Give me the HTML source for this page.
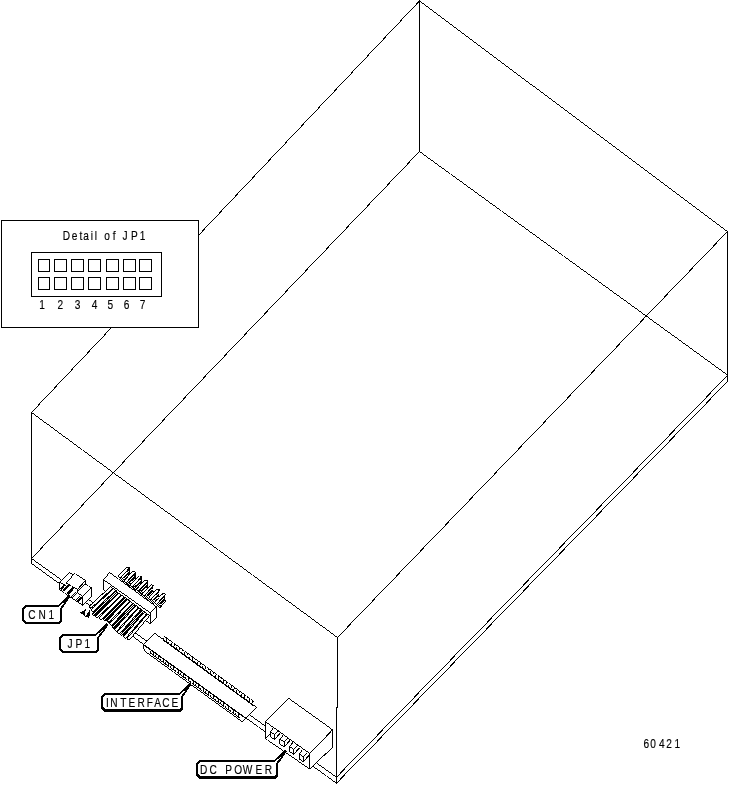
<!DOCTYPE html>
<html><head><meta charset="utf-8"><title>60421</title>
<style>
html,body{margin:0;padding:0;background:#fff;}
body{width:729px;height:785px;overflow:hidden;position:relative;font-family:"Liberation Sans",sans-serif;}
svg{position:absolute;left:0;top:0;display:block;}
svg text{font-family:"Liberation Sans",sans-serif;fill:#000;stroke:#000;stroke-width:0.18px;white-space:pre;}
</style></head><body>
<svg width="729" height="785" viewBox="0 0 729 785" shape-rendering="crispEdges" fill="#000">
<defs><pattern id="dz" width="2" height="2" patternUnits="userSpaceOnUse"><rect width="2" height="2" fill="#fff"/><rect width="1" height="1"/><rect x="1" y="1" width="1" height="1"/></pattern></defs>
<path d="M419.1 1.1L727.42 231.94L727.9 231.3L419.58 0.46ZM727.35 231.08L337.07 637.37L337.65 637.92L727.93 231.63ZM337.9 637.3L31.58 412.06L31.1 412.7L337.42 637.94ZM31.65 412.92L419.93 1.03L419.35 0.48L31.07 412.37ZM419.1 -0.2L419.1 151.7L419.9 151.7L419.9 -0.2ZM727.1 231.3L727.1 381.7L727.9 381.7L727.9 231.3ZM31.1 412.3L31.1 563.7L31.9 563.7L31.9 412.3ZM337.1 637.3L337.1 707.7L337.9 707.7L337.9 637.3ZM337.7 707.1L336.3 707.1L336.3 707.9L337.7 707.9ZM336.1 707.3L336.1 783.7L336.9 783.7L336.9 707.3ZM419.1 151.71L727.43 375.44L727.9 374.79L419.57 151.06ZM419.35 151.08L31.07 558.37L31.65 558.92L419.93 151.63ZM336.65 777.62L727.93 375.64L727.35 375.08L336.07 777.06ZM336.65 783.62L727.93 381.64L727.35 381.08L336.07 783.06ZM31.1 558.71L336.43 777.64L336.9 776.99L31.57 558.06ZM31.1 563.71L336.43 783.64L336.9 782.99L31.57 563.06Z"/>
<rect x="1" y="220" width="198" height="108"/>
<rect x="2" y="221" width="196" height="106" fill="#fff"/>
<rect x="31" y="252" width="131" height="45"/>
<rect x="32" y="253" width="129" height="43" fill="#fff"/>
<rect x="38" y="259" width="12" height="13"/>
<rect x="39" y="260" width="10" height="11" fill="#fff"/>
<rect x="38" y="277" width="12" height="13"/>
<rect x="39" y="278" width="10" height="11" fill="#fff"/>
<rect x="54" y="259" width="13" height="13"/>
<rect x="55" y="260" width="11" height="11" fill="#fff"/>
<rect x="54" y="277" width="13" height="13"/>
<rect x="55" y="278" width="11" height="11" fill="#fff"/>
<rect x="71" y="259" width="13" height="13"/>
<rect x="72" y="260" width="11" height="11" fill="#fff"/>
<rect x="71" y="277" width="13" height="13"/>
<rect x="72" y="278" width="11" height="11" fill="#fff"/>
<rect x="88" y="259" width="13" height="13"/>
<rect x="89" y="260" width="11" height="11" fill="#fff"/>
<rect x="88" y="277" width="13" height="13"/>
<rect x="89" y="278" width="11" height="11" fill="#fff"/>
<rect x="106" y="259" width="13" height="13"/>
<rect x="107" y="260" width="11" height="11" fill="#fff"/>
<rect x="106" y="277" width="13" height="13"/>
<rect x="107" y="278" width="11" height="11" fill="#fff"/>
<rect x="123" y="259" width="13" height="13"/>
<rect x="124" y="260" width="11" height="11" fill="#fff"/>
<rect x="123" y="277" width="13" height="13"/>
<rect x="124" y="278" width="11" height="11" fill="#fff"/>
<rect x="139" y="259" width="13" height="13"/>
<rect x="140" y="260" width="11" height="11" fill="#fff"/>
<rect x="139" y="277" width="13" height="13"/>
<rect x="140" y="278" width="11" height="11" fill="#fff"/>
<polygon points="59.5,582.3 69.5,572.3 73.2,575.1 74.7,573.5 85.7,580.6 85.7,584.5 91.6,587.7 91.6,596.6 82.7,605.3 59.5,589.6" fill="#fff"/>
<path d="M59.64 582.72L69.92 572.44L69.36 571.88L59.08 582.16ZM69.1 572.5L73.12 575.54L73.6 574.9L69.58 571.86ZM73.36 575.52L75.13 573.63L74.54 573.08L72.77 574.97ZM74.32 573.73L85.65 581.04L86.08 580.37L74.75 573.06ZM85.1 580.4L85.1 584.7L85.9 584.7L85.9 580.4ZM85.33 584.76L91.59 588.15L91.97 587.44L85.71 584.05ZM91.1 587.5L91.1 596.8L91.9 596.8L91.9 587.5ZM91.46 596.17L82.28 605.15L82.84 605.73L92.02 596.75ZM83.09 605.08L59.56 589.16L59.11 589.82L82.64 605.74ZM59.9 589.8L59.9 582.1L59.1 582.1L59.1 589.8ZM73.03 574.69L65.87 582.99L66.47 583.51L73.63 575.21ZM65.93 583.35L77.38 589.75L77.77 589.05L66.32 582.65ZM77.55 589.72L86.13 580.73L85.55 580.18L76.97 589.17ZM77.1 589.1L77.1 592.6L77.9 592.6L77.9 589.1ZM76.99 592.58L82.6 597.14L83.11 596.52L77.5 591.96ZM82.84 597.12L92.03 587.84L91.46 587.28L82.27 596.56ZM82.1 596.5L82.1 605.5L82.9 605.5L82.9 596.5ZM78.13 591.43L86.12 583.75L85.57 583.17L77.58 590.85ZM59.15 582.57L65.51 585.65L65.85 584.93L59.49 581.85ZM59.13 582.56L64.29 585.35L64.67 584.64L59.51 581.85ZM64.05 584.16L59.99 588.86L61.35 590.04L65.41 585.34ZM68.22 584.12L62.65 590.31L64.28 591.78L69.85 585.59ZM73.15 586.69L66.67 593.38L68.25 594.91L74.73 588.22ZM76.66 592.57L71.48 597.65L72.04 598.23L77.22 593.15ZM75.46 591.77L70.28 596.85L70.84 597.43L76.02 592.35ZM81.23 596.35L76.65 600.93L78.07 602.35L82.65 597.77ZM79.87 595.57L75.08 600.15L75.63 600.73L80.42 596.15Z"/>
<polygon points="80.1,612.6 86.9,608.5 84.7,612.3 85.1,616 83,614.6" fill="#000"/>
<polygon points="89.9,609.9 89.3,619.1 87.5,616.9 84.8,616.5 87,614" fill="#000"/>
<polygon points="153.38,602.28 162.98,592.98 165.68,593.58 166.18,600.98 159.78,608.58 157.38,606.18" fill="#000"/>
<polygon points="154.48,602.38 163.28,593.78 164.88,594.48 156.18,604.08" fill="#fff"/>
<polygon points="164.78,595.38 165.58,594.98 165.58,600.18 164.78,600.78" fill="#fff"/>
<polygon points="157.78,603.48 163.97,597.55 165.22,597.65 159.03,603.58" fill="#fff"/>
<polygon points="159.68,605.28 164,601.14 165.25,601.24 160.93,605.38" fill="#fff"/>
<polygon points="156.98,604.88 158.58,603.28 160.78,606.08 159.58,607.68" fill="url(#dz)"/>
<polygon points="147.35,597.9 156.95,588.6 159.65,589.2 160.15,596.6 153.75,604.2 151.35,601.8" fill="#000"/>
<polygon points="148.45,598 157.25,589.4 158.85,590.1 150.15,599.7" fill="#fff"/>
<polygon points="158.75,591 159.55,590.6 159.55,595.8 158.75,596.4" fill="#fff"/>
<polygon points="151.75,599.1 157.94,593.17 159.19,593.27 153,599.2" fill="#fff"/>
<polygon points="153.65,600.9 157.97,596.76 159.22,596.86 154.9,601" fill="#fff"/>
<polygon points="150.95,600.5 152.55,598.9 154.75,601.7 153.55,603.3" fill="url(#dz)"/>
<polygon points="141.32,593.52 150.92,584.22 153.62,584.82 154.12,592.22 147.72,599.82 145.32,597.42" fill="#000"/>
<polygon points="142.42,593.62 151.22,585.02 152.82,585.72 144.12,595.32" fill="#fff"/>
<polygon points="152.72,586.62 153.52,586.22 153.52,591.42 152.72,592.02" fill="#fff"/>
<polygon points="145.72,594.72 151.91,588.79 153.16,588.89 146.97,594.82" fill="#fff"/>
<polygon points="147.62,596.52 151.94,592.38 153.19,592.48 148.87,596.62" fill="#fff"/>
<polygon points="144.92,596.12 146.52,594.52 148.72,597.32 147.52,598.92" fill="url(#dz)"/>
<polygon points="135.29,589.14 144.89,579.84 147.59,580.44 148.09,587.84 141.69,595.44 139.29,593.04" fill="#000"/>
<polygon points="136.39,589.24 145.19,580.64 146.79,581.34 138.09,590.94" fill="#fff"/>
<polygon points="146.69,582.24 147.49,581.84 147.49,587.04 146.69,587.64" fill="#fff"/>
<polygon points="139.69,590.34 145.88,584.41 147.13,584.51 140.94,590.44" fill="#fff"/>
<polygon points="141.59,592.14 145.91,588 147.16,588.1 142.84,592.24" fill="#fff"/>
<polygon points="138.89,591.74 140.49,590.14 142.69,592.94 141.49,594.54" fill="url(#dz)"/>
<polygon points="129.26,584.76 138.86,575.46 141.56,576.06 142.06,583.46 135.66,591.06 133.26,588.66" fill="#000"/>
<polygon points="130.36,584.86 139.16,576.26 140.76,576.96 132.06,586.56" fill="#fff"/>
<polygon points="140.66,577.86 141.46,577.46 141.46,582.66 140.66,583.26" fill="#fff"/>
<polygon points="133.66,585.96 139.85,580.03 141.1,580.13 134.91,586.06" fill="#fff"/>
<polygon points="135.56,587.76 139.88,583.62 141.13,583.72 136.81,587.86" fill="#fff"/>
<polygon points="132.86,587.36 134.46,585.76 136.66,588.56 135.46,590.16" fill="url(#dz)"/>
<polygon points="123.23,580.38 132.83,571.08 135.53,571.68 136.03,579.08 129.63,586.68 127.23,584.28" fill="#000"/>
<polygon points="124.33,580.48 133.13,571.88 134.73,572.58 126.03,582.18" fill="#fff"/>
<polygon points="134.63,573.48 135.43,573.08 135.43,578.28 134.63,578.88" fill="#fff"/>
<polygon points="127.63,581.58 133.82,575.65 135.07,575.75 128.88,581.68" fill="#fff"/>
<polygon points="129.53,583.38 133.85,579.24 135.1,579.34 130.78,583.48" fill="#fff"/>
<polygon points="126.83,582.98 128.43,581.38 130.63,584.18 129.43,585.78" fill="url(#dz)"/>
<polygon points="117.2,576 126.8,566.7 129.5,567.3 130,574.7 123.6,582.3 121.2,579.9" fill="#000"/>
<polygon points="118.3,576.1 127.1,567.5 128.7,568.2 120,577.8" fill="#fff"/>
<polygon points="128.6,569.1 129.4,568.7 129.4,573.9 128.6,574.5" fill="#fff"/>
<polygon points="121.6,577.2 127.79,571.27 129.04,571.37 122.85,577.3" fill="#fff"/>
<polygon points="123.5,579 127.82,574.86 129.07,574.96 124.75,579.1" fill="#fff"/>
<polygon points="120.8,578.6 122.4,577 124.6,579.8 123.4,581.4" fill="url(#dz)"/>
<polygon points="103.5,579.7 109.6,572.5 156.5,606.8 150.4,612.9" fill="#fff"/>
<path d="M103.68 580.11L110.03 572.61L109.42 572.09L103.07 579.59ZM109.2 572.7L156.43 607.24L156.9 606.6L109.67 572.06ZM156.36 606.38L149.98 612.76L150.54 613.32L156.92 606.94ZM150.79 612.69L103.57 579.26L103.11 579.91L150.33 613.34Z"/>
<polygon points="103.5,579.7 150.4,612.9 150.4,624 103.5,589.6" fill="#fff"/>
<path d="M103.11 579.91L150.33 613.34L150.79 612.69L103.57 579.26ZM150.1 612.7L150.1 624.2L150.9 624.2L150.9 612.7ZM150.8 623.8L103.58 589.16L103.1 589.8L150.32 624.44ZM103.9 589.8L103.9 579.5L103.1 579.5L103.1 589.8Z"/>
<polygon points="150.4,612.9 156.5,606.8 156.5,617.2 150.4,624" fill="#fff"/>
<path d="M150.54 613.32L156.92 606.94L156.36 606.38L149.98 612.76ZM156.1 606.6L156.1 617.4L156.9 617.4L156.9 606.6ZM156.34 616.78L149.97 623.88L150.56 624.42L156.93 617.32ZM150.9 624.2L150.9 612.7L150.1 612.7L150.1 624.2Z"/>
<polygon points="110,587 149,615.5 129,640.5 91.5,609.5" fill="url(#dz)"/>
<polygon points="149.59,615.63 147.51,613.91 126.95,638.65 129.03,640.37" fill="#fff"/>
<path d="M150 615.45L147.61 613.47L147.1 614.09L149.49 616.07ZM147.33 613.5L126.52 638.55L127.13 639.06L147.95 614.01ZM126.54 638.83L128.93 640.81L129.44 640.19L127.05 638.21ZM129.21 640.78L150.02 615.73L149.41 615.22L128.59 640.27Z"/>
<polygon points="146.73,613.55 144.67,611.81 123.64,636.63 125.7,638.37" fill="#fff"/>
<path d="M147.14 613.38L144.78 611.37L144.26 611.98L146.62 613.99ZM144.49 611.4L123.21 636.52L123.82 637.04L145.1 611.91ZM123.23 636.8L125.6 638.8L126.11 638.19L123.75 636.19ZM125.88 638.78L147.16 613.66L146.55 613.14L125.27 638.26Z"/>
<polygon points="143.87,611.47 141.83,609.71 120.45,634.44 122.5,636.21" fill="url(#dz)"/>
<path d="M144.28 611.3L141.94 609.27L141.42 609.88L143.76 611.91ZM141.66 609.29L120.02 634.33L120.63 634.86L142.26 609.82ZM120.04 634.62L122.39 636.64L122.91 636.04L120.56 634.01ZM122.67 636.62L144.3 611.58L143.7 611.06L122.06 636.1Z"/>
<polygon points="141.01,609.39 138.99,607.61 117.13,632.41 119.15,634.19" fill="#fff"/>
<path d="M141.43 609.22L139.1 607.18L138.57 607.78L140.9 609.82ZM138.82 607.19L116.7 632.29L117.3 632.82L139.42 607.72ZM116.71 632.58L119.04 634.63L119.57 634.03L117.24 631.98ZM119.32 634.61L141.45 609.51L140.84 608.98L118.72 634.08Z"/>
<polygon points="138.15,607.31 136.15,605.51 114.46,629.62 116.47,631.42" fill="#fff"/>
<path d="M138.57 607.15L136.26 605.08L135.73 605.67L138.04 607.74ZM135.98 605.09L114.03 629.5L114.63 630.04L136.58 605.63ZM114.05 629.78L116.35 631.86L116.89 631.26L114.58 629.19ZM116.64 631.84L138.58 607.43L137.99 606.9L116.04 631.31Z"/>
<polygon points="135.29,605.23 133.31,603.41 111.8,626.84 113.79,628.66" fill="url(#dz)"/>
<path d="M135.71 605.07L133.43 602.98L132.89 603.57L135.17 605.66ZM133.15 602.99L111.37 626.71L111.96 627.25L133.74 603.53ZM111.39 627L113.67 629.09L114.21 628.5L111.93 626.41ZM113.95 629.08L135.72 605.36L135.14 604.81L113.36 628.54Z"/>
<polygon points="132.44,603.15 130.46,601.31 109.42,623.77 111.4,625.61" fill="#fff"/>
<path d="M132.85 603L130.59 600.88L130.05 601.46L132.31 603.58ZM130.31 600.89L109 623.64L109.58 624.19L130.89 601.43ZM109.01 623.92L111.27 626.04L111.81 625.46L109.55 623.34ZM111.55 626.03L132.86 603.28L132.28 602.73L110.97 625.49Z"/>
<polygon points="129.58,601.07 127.62,599.21 107.2,620.56 109.15,622.43" fill="#fff"/>
<path d="M130 600.92L127.76 598.78L127.2 599.36L129.44 601.5ZM127.47 598.79L106.77 620.43L107.35 620.99L128.05 599.34ZM106.77 620.72L109.01 622.86L109.57 622.28L107.33 620.14ZM109.3 622.85L130 601.21L129.42 600.65L108.72 622.3Z"/>
<polygon points="126.72,598.99 124.78,597.11 103.03,619.38 104.96,621.27" fill="url(#dz)"/>
<path d="M127.14 598.85L124.92 596.68L124.36 597.25L126.58 599.42ZM124.64 596.68L102.6 619.24L103.17 619.8L125.21 597.24ZM102.6 619.53L104.82 621.69L105.38 621.12L103.16 618.95ZM105.1 621.69L127.14 599.13L126.57 598.57L104.53 621.13Z"/>
<polygon points="123.86,596.91 121.94,595.01 98.83,618.17 100.74,620.07" fill="#fff"/>
<path d="M124.28 596.77L122.09 594.58L121.52 595.15L123.71 597.34ZM121.8 594.58L98.4 618.03L98.97 618.59L122.37 595.15ZM98.4 618.31L100.6 620.5L101.16 619.93L98.97 617.74ZM100.88 620.5L124.28 597.05L123.71 596.49L100.31 619.93Z"/>
<polygon points="121,594.83 119.1,592.91 95.46,616.09 97.35,618.01" fill="#fff"/>
<path d="M121.42 594.7L119.25 592.48L118.68 593.04L120.85 595.26ZM118.97 592.48L95.04 615.94L95.6 616.51L119.53 593.05ZM95.03 616.22L97.2 618.44L97.78 617.88L95.61 615.66ZM97.49 618.44L121.42 594.98L120.86 594.41L96.93 617.87Z"/>
<polygon points="118.13,592.75 116.27,590.81 92.23,613.86 94.1,615.81" fill="url(#dz)"/>
<path d="M118.56 592.62L116.42 590.38L115.84 590.94L117.98 593.18ZM116.13 590.38L91.81 613.71L92.36 614.28L116.69 590.96ZM91.8 613.99L93.95 616.23L94.52 615.67L92.38 613.44ZM94.23 616.23L118.56 592.9L118 592.33L93.67 615.66Z"/>
<polygon points="115.27,590.67 113.43,588.71 91.03,609.71 92.88,611.68" fill="#fff"/>
<path d="M115.7 590.55L113.58 588.29L113 588.83L115.12 591.09ZM113.3 588.28L90.61 609.55L91.16 610.13L113.85 588.86ZM90.6 609.83L92.72 612.1L93.31 611.55L91.19 609.29ZM93.01 612.1L115.69 590.83L115.15 590.25L92.46 611.52Z"/>
<polygon points="112.41,588.6 110.59,586.6 88.99,606.4 90.81,608.4" fill="#fff"/>
<path d="M112.84 588.47L110.75 586.19L110.16 586.73L112.25 589.01ZM110.46 586.17L88.57 606.25L89.11 606.83L111.01 586.76ZM88.56 606.53L90.65 608.81L91.24 608.27L89.15 605.99ZM90.94 608.83L112.83 588.75L112.29 588.17L90.39 608.24Z"/>
<polygon points="143.5,644.3 154.6,633.2 256.8,707.6 246,718.2 242.3,721.8 146.3,652.3 143.5,648.5" fill="#fff"/>
<path d="M143.64 644.72L155.02 633.34L154.46 632.78L143.08 644.16ZM154.2 633.41L256.73 708.04L257.2 707.39L154.67 632.76ZM256.66 707.17L245.58 718.05L246.14 718.63L257.22 707.75ZM245.86 717.77L241.88 721.65L242.44 722.23L246.42 718.35ZM242.7 721.59L146.37 651.86L145.9 652.51L242.23 722.24ZM146.74 652.22L143.7 648.1L143.06 648.58L146.1 652.7ZM143.9 648.7L143.9 644.1L143.1 644.1L143.1 648.7ZM143.1 644.51L245.93 718.64L246.4 717.99L143.57 643.86ZM163.93 636.47L253.96 701.91L254.37 701.35L164.34 635.9ZM162.83 640.37L252.86 705.81L253.27 705.25L163.24 639.8ZM163.99 636.01L162.78 640.29L163.51 640.49L164.72 636.21ZM166.59 637.9L165.38 642.18L166.11 642.38L167.32 638.1ZM169.19 639.79L167.98 644.07L168.71 644.27L169.92 639.99ZM171.79 641.68L170.58 645.96L171.31 646.16L172.52 641.88ZM174.39 643.57L173.18 647.85L173.91 648.06L175.12 643.77ZM176.99 645.46L175.78 649.74L176.51 649.95L177.72 645.66ZM179.59 647.35L178.38 651.63L179.11 651.84L180.32 647.55ZM182.19 649.24L180.98 653.52L181.71 653.73L182.92 649.44ZM184.79 651.13L183.58 655.41L184.31 655.62L185.52 651.33ZM187.39 653.02L186.18 657.3L186.91 657.51L188.12 653.22ZM189.99 654.91L188.78 659.19L189.51 659.4L190.72 655.11ZM192.59 656.8L191.38 661.08L192.11 661.29L193.32 657ZM195.19 658.69L193.98 662.97L194.71 663.18L195.92 658.89ZM197.79 660.58L196.58 664.86L197.31 665.07L198.52 660.78ZM200.39 662.47L199.18 666.75L199.91 666.96L201.12 662.67ZM202.99 664.36L201.78 668.64L202.51 668.85L203.72 664.56ZM205.59 666.25L204.38 670.53L205.11 670.74L206.32 666.45ZM208.19 668.14L206.98 672.42L207.71 672.63L208.92 668.34ZM210.79 670.03L209.58 674.31L210.31 674.52L211.52 670.23ZM213.39 671.92L212.18 676.2L212.91 676.41L214.12 672.12ZM215.99 673.81L214.78 678.09L215.51 678.3L216.72 674.01ZM218.59 675.7L217.38 679.98L218.11 680.19L219.32 675.9ZM221.19 677.59L219.98 681.88L220.71 682.08L221.92 677.79ZM223.79 679.48L222.58 683.77L223.31 683.97L224.52 679.68ZM226.39 681.37L225.18 685.66L225.91 685.86L227.12 681.57ZM228.99 683.26L227.78 687.55L228.51 687.75L229.72 683.46ZM231.59 685.15L230.38 689.44L231.11 689.64L232.32 685.35ZM234.19 687.04L232.98 691.33L233.71 691.53L234.92 687.24ZM236.79 688.93L235.58 693.22L236.31 693.42L237.52 689.13ZM239.39 690.82L238.18 695.11L238.91 695.31L240.12 691.03ZM241.99 692.71L240.78 697L241.51 697.2L242.72 692.92ZM244.59 694.6L243.38 698.89L244.11 699.09L245.32 694.81ZM247.19 696.49L245.98 700.78L246.71 700.98L247.92 696.7ZM249.79 698.38L248.58 702.67L249.31 702.87L250.52 698.59ZM252.39 700.27L251.18 704.56L251.91 704.76L253.12 700.48ZM142.99 644.97L245.81 719.1L246.51 718.13L143.69 644ZM150.33 653.47L239.66 718.4L240.07 717.84L150.74 652.9ZM150.65 650.16L150.31 653.46L151.05 653.54L151.39 650.24ZM153.15 651.98L152.81 655.28L153.55 655.36L153.89 652.06ZM155.65 653.8L155.31 657.1L156.05 657.17L156.39 653.87ZM158.15 655.61L157.81 658.91L158.55 658.99L158.89 655.69ZM160.65 657.43L160.31 660.73L161.05 660.81L161.39 657.51ZM163.15 659.25L162.81 662.55L163.55 662.63L163.89 659.33ZM165.65 661.07L165.31 664.37L166.05 664.44L166.39 661.14ZM168.15 662.88L167.81 666.18L168.55 666.26L168.89 662.96ZM170.65 664.7L170.31 668L171.05 668.08L171.39 664.78ZM173.15 666.52L172.81 669.82L173.55 669.9L173.89 666.6ZM175.65 668.34L175.31 671.64L176.05 671.71L176.39 668.41ZM178.15 670.15L177.81 673.45L178.55 673.53L178.89 670.23ZM180.65 671.97L180.31 675.27L181.05 675.35L181.39 672.05ZM183.15 673.79L182.81 677.09L183.55 677.17L183.89 673.87ZM185.65 675.61L185.31 678.91L186.05 678.98L186.39 675.68ZM188.15 677.42L187.81 680.72L188.55 680.8L188.89 677.5ZM190.65 679.24L190.31 682.54L191.05 682.62L191.39 679.32ZM193.15 681.06L192.81 684.36L193.55 684.44L193.89 681.14ZM195.65 682.88L195.31 686.18L196.05 686.25L196.39 682.95ZM198.15 684.69L197.81 687.99L198.55 688.07L198.89 684.77ZM200.65 686.51L200.31 689.81L201.05 689.89L201.39 686.59ZM203.15 688.33L202.81 691.63L203.55 691.71L203.89 688.41ZM205.65 690.15L205.31 693.45L206.05 693.52L206.39 690.22ZM208.15 691.96L207.81 695.26L208.55 695.34L208.89 692.04ZM210.65 693.78L210.31 697.08L211.05 697.16L211.39 693.86ZM213.15 695.6L212.81 698.9L213.55 698.98L213.89 695.68ZM215.65 697.42L215.31 700.72L216.05 700.79L216.39 697.49ZM218.15 699.23L217.81 702.53L218.55 702.61L218.89 699.31ZM220.65 701.05L220.31 704.35L221.05 704.43L221.39 701.13ZM223.15 702.87L222.81 706.17L223.55 706.25L223.89 702.95ZM225.65 704.69L225.31 707.99L226.05 708.06L226.39 704.76ZM228.15 706.5L227.81 709.8L228.55 709.88L228.89 706.58ZM230.65 708.32L230.31 711.62L231.05 711.7L231.39 708.4ZM233.15 710.14L232.81 713.44L233.55 713.52L233.89 710.22ZM235.65 711.96L235.31 715.26L236.05 715.33L236.39 712.03ZM238.15 713.77L237.81 717.07L238.55 717.15L238.89 713.85Z"/>
<polygon points="265.5,721.7 288.7,698.3 332.6,729.8 332.6,747.4 309.6,769 265.5,738.6" fill="#fff"/>
<path d="M265.64 722.12L289.12 698.44L288.56 697.88L265.08 721.56ZM288.3 698.51L332.53 730.24L333 729.59L288.77 697.86ZM332.1 729.6L332.1 747.6L332.9 747.6L332.9 729.6ZM332.47 746.97L309.18 768.85L309.73 769.43L333.02 747.55ZM309.99 768.78L265.56 738.16L265.11 738.82L309.54 769.44ZM265.9 738.8L265.9 721.5L265.1 721.5L265.1 738.8ZM265.1 721.91L309.53 753.94L310 753.29L265.57 721.26ZM309.75 753.92L333.03 729.94L332.45 729.38L309.17 753.36ZM309.1 753.3L309.1 769.2L309.9 769.2L309.9 753.3ZM265.65 739.02L270.83 733.63L270.25 733.08L265.07 738.47ZM270.1 731.6L270.1 736.8L270.9 736.8L270.9 731.6ZM269.82 736.83L274.35 739.74L274.78 739.07L270.25 736.16ZM274.9 739.5L274.9 734.1L274.1 734.1L274.1 739.5ZM274.78 734.06L270.23 731.35L269.82 732.04L274.37 734.75ZM270.38 732.21L273.93 728.01L273.32 727.49L269.77 731.69ZM274.54 734.73L278.82 730.55L278.26 729.97L273.98 734.15ZM274.55 739.72L280.53 733.53L279.95 732.98L273.97 739.17ZM279.1 739L279.1 744.2L279.9 744.2L279.9 739ZM279.42 744.23L283.95 747.14L284.38 746.47L279.85 743.56ZM284.9 746.9L284.9 741.5L284.1 741.5L284.1 746.9ZM284.38 741.46L279.83 738.75L279.42 739.44L283.97 742.15ZM279.98 739.61L283.53 735.41L282.92 734.89L279.37 739.09ZM284.14 742.13L288.42 737.95L287.86 737.37L283.58 741.55ZM284.15 747.12L290.13 740.93L289.55 740.38L283.57 746.57ZM289.1 746.4L289.1 751.6L289.9 751.6L289.9 746.4ZM289.02 751.63L293.55 754.54L293.98 753.87L289.45 750.96ZM293.9 754.3L293.9 748.9L293.1 748.9L293.1 754.3ZM293.98 748.86L289.43 746.15L289.02 746.84L293.57 749.55ZM289.58 747.01L293.13 742.81L292.52 742.29L288.97 746.49ZM293.74 749.53L298.02 745.35L297.46 744.77L293.18 748.95ZM293.75 754.52L299.73 748.33L299.15 747.78L293.17 753.97ZM299.1 753.8L299.1 759L299.9 759L299.9 753.8ZM298.62 759.03L303.15 761.94L303.58 761.27L299.05 758.36ZM303.9 761.7L303.9 756.3L303.1 756.3L303.1 761.7ZM303.58 756.26L299.03 753.55L298.62 754.24L303.17 756.95ZM299.18 754.41L302.73 750.21L302.12 749.69L298.57 753.89ZM303.34 756.93L307.62 752.75L307.06 752.17L302.78 756.35ZM303.35 761.92L309.33 755.73L308.75 755.18L302.77 761.37Z"/>
<polygon points="57.5,606 68.7,594.4 70.7,596.2 62,609.2" fill="#000"/>
<polygon points="25,605 59,605 62,608 62,621 59,624 25,624 22,621 22,608" fill="#000"/>
<polygon points="26,607 58,607 60,609 60,620 58,622 26,622 24,620 24,609" fill="#fff"/>
<polygon points="59,607 60.3,605.2 65.6,601.1 65,601.8 60,608.4" fill="#fff"/>
<polygon points="94.5,635 106.5,623.2 108.5,625 99,638.2" fill="#000"/>
<polygon points="62,634 96,634 99,637 99,650 96,653 62,653 59,650 59,637" fill="#000"/>
<polygon points="63,636 95,636 97,638 97,649 95,651 63,651 61,649 61,638" fill="#fff"/>
<polygon points="96,636 97.3,634.2 103,630 102.4,630.7 97,637.4" fill="#fff"/>
<polygon points="178.5,694 189.7,682.4 191.7,684.2 183,697.2" fill="#000"/>
<polygon points="104,693 180,693 183,696 183,709 180,712 104,712 101,709 101,696" fill="#000"/>
<polygon points="105,695 179,695 181,697 181,707 179,709 105,709 103,707 103,697" fill="#fff"/>
<polygon points="180,695 181.3,693.2 186.6,689.1 186,689.8 181,696.4" fill="#fff"/>
<polygon points="273.5,761 284.9,749.6 286.9,751.4 278,764.2" fill="#000"/>
<polygon points="199,760 275,760 278,763 278,776 275,779 199,779 196,776 196,763" fill="#000"/>
<polygon points="200,762 274,762 276,764 276,774 274,776 200,776 198,774 198,764" fill="#fff"/>
<polygon points="275,762 276.3,760.2 281.7,756.2 281.1,756.9 276,763.4" fill="#fff"/>
<g shape-rendering="auto" xml:space="preserve" style="filter:grayscale(1)">
<text transform="scale(0.75,1)" x="88.4 99.33 107.87 114.93 122.67 127.87 133.33 142.8 152.27 157.33 166.67 179.2 190.27" y="240" font-size="13.5" text-anchor="middle">Detail of JP1</text>
<text transform="scale(0.75,1)" x="56 66.67 80.4 93.33 103.33 113.33 126 136 147.07 157.33 168.93 180 190" y="309" font-size="13.5" text-anchor="middle">1 2 3 4 5 6 7</text>
<text transform="scale(0.75,1)" x="861.73 870.93 882.27 892.13 903.2" y="748" font-size="13.5" text-anchor="middle">60421</text>
<text transform="scale(0.75,1)" x="42.4 56.13 68.53" y="619" font-size="13.5" text-anchor="middle">CN1</text>
<text transform="scale(0.75,1)" x="93.33 105.33 116.4" y="648" font-size="13.5" text-anchor="middle">JP1</text>
<text transform="scale(0.75,1)" x="143.33 151.87 164.53 175.73 188.27 199.87 210.13 221.2 233.2" y="707" font-size="13.5" text-anchor="middle">INTERFACE</text>
<text transform="scale(0.75,1)" x="271.47 284.27 293.33 304.67 317.47 330 345.2 357.73" y="774" font-size="13.5" text-anchor="middle">DC POWER</text>
</g>
</svg>
</body></html>
